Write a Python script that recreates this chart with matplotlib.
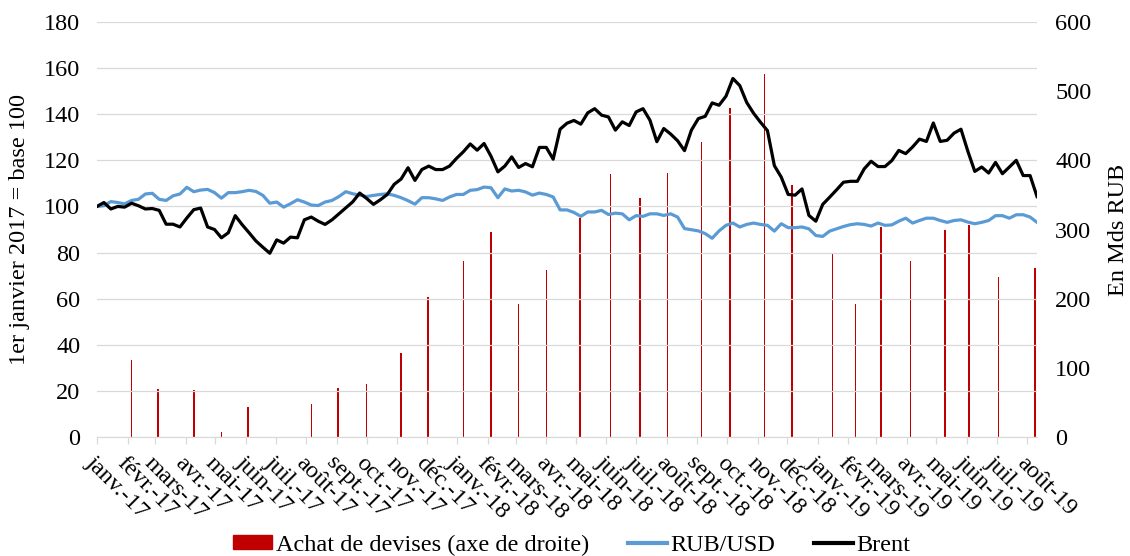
import matplotlib
matplotlib.use('Agg')
from matplotlib import pyplot as plt
from matplotlib.patches import Patch
from matplotlib.lines import Line2D
from matplotlib.transforms import ScaledTranslation
import numpy as np
import pandas as pd

# weekly series, 1er janvier 2017 = base 100
brent = [100, 101.7, 98.9, 100, 99.7, 101.4, 100.3, 98.9, 99.1, 98.3, 92.3, 92.3, 91.1, 95, 98.6,
         99.3, 91.1, 90, 86.4, 88.6, 96, 92.1, 88.6, 85, 82.3,
         79.7, 85.5, 84.1, 86.7, 86.4, 94.2, 95.4, 93.6, 92.2, 94.2, 96.8, 99.4, 102, 105.8, 103.5,
         100.9, 102.9, 105.2, 109.6, 111.9, 116.8,
         111.3, 116, 117.5, 116, 116, 117.5, 120.8, 123.7, 127.1, 124.4, 127.3, 121.8, 115, 117.5,
         121.5, 116.9, 118.6, 117.2, 125.6, 125.6, 120.5, 133.5, 136.1, 137.3,
         135.7, 140.6, 142.4, 139.6, 138.8, 133.1, 136.7, 135.1, 141, 142.4, 137.4, 128.1, 133.8,
         131.4, 128.5, 124.2, 133.1, 138.1, 139.1, 144.9, 143.9, 147.8, 155.5,
         152.4, 145.1, 140.4, 136.5, 132.9, 117.7, 112.7, 105.2, 104.9, 107.6, 96.1, 93.6, 100.9,
         104, 107.2, 110.5, 110.9, 110.9, 116.3, 119.6, 117.3, 117.3, 119.9, 124.3,
         122.9, 125.8, 129.2, 128.2, 136.2, 128.2, 128.7, 131.8, 133.5, 123.9, 115.2, 117.1, 114.5,
         119.1, 114.2, 117.1, 120, 113.4, 113.4, 104.3]

rub_usd = [100, 100.3, 102.1, 101.7, 101.1, 102.6, 103.1, 105.4, 105.7, 103.1, 102.6, 104.6, 105.4,
           108.3, 106.4, 107.1, 107.4, 106, 103.6, 106, 106, 106.4, 107, 106.5,
           104.8, 101.4, 101.9, 99.7, 101.2, 102.9, 101.9, 100.6, 100.4, 101.9, 102.6, 104.3, 106.4,
           105.5, 104.9, 104.3, 104.8, 105.2, 105.5, 104.8, 103.8, 102.5, 101,
           103.8, 103.8, 103.3, 102.6, 104.1, 105.2, 105.2, 107, 107.3, 108.4, 108.1, 103.8, 107.6,
           106.7, 107, 106.3, 104.9, 105.8, 105.2, 104.1, 98.5, 98.5, 97.4,
           95.7, 97.6, 97.6, 98.3, 96.5, 97.1, 96.8, 94.2, 96, 95.7, 96.8, 96.8, 96.1, 96.8, 95.4,
           90.4, 89.9, 89.4, 88.2, 86.2, 89.4, 91.8,
           92.8, 91.1, 92.2, 92.8, 92.2, 91.8, 89.3, 92.5, 90.8, 90.8, 91.1, 90.3, 87.4, 87, 89.3,
           90.3, 91.3, 92.1, 92.5, 92.2, 91.5, 92.8, 91.8, 92, 93.6,
           94.9, 92.8, 93.9, 94.9, 94.9, 93.9, 93.1, 93.9, 94.2, 93.2, 92.5, 93.1, 93.9, 96, 96,
           94.9, 96.4, 96.4, 95.4, 93.1]

week_dates = pd.date_range('2017-01-01', periods=len(brent), freq='7D')

# achats de devises (Mds RUB), axe de droite
purchase_dates = ['2017-02-05', '2017-03-04', '2017-04-09', '2017-05-07', '2017-06-03',
                  '2017-08-06', '2017-09-02', '2017-10-01', '2017-11-05', '2017-12-02',
                  '2018-01-07', '2018-02-04', '2018-03-04', '2018-04-01', '2018-05-05',
                  '2018-06-05', '2018-07-05', '2018-08-02', '2018-09-05', '2018-10-04',
                  '2018-11-08', '2018-12-06', '2019-01-16', '2019-02-08', '2019-03-06',
                  '2019-04-05', '2019-05-10', '2019-06-03', '2019-07-03', '2019-08-09']
purchases = [111, 70, 68, 7, 44, 47, 71, 76, 121, 203,
             255, 297, 192, 241, 317, 380, 346, 382, 426, 475,
             525, 365, 264, 193, 303, 254, 299, 307, 231, 244]

month_names = ['janv.', 'févr.', 'mars', 'avr.', 'mai', 'juin',
               'juil.', 'août', 'sept.', 'oct.', 'nov.', 'déc.']


def draw(outfile):
    plt.rcParams['font.family'] = ['Liberation Serif', 'DejaVu Serif']
    fs = 17.5

    fig = plt.figure(figsize=(11.3, 5.56), dpi=100)
    ax = fig.add_axes([97/1130, 1-437/556, 940/1130, 415/556])
    ax2 = ax.twinx()

    ax2.bar(pd.to_datetime(purchase_dates), purchases, width=1.5, color='#C00000')
    ax.plot(week_dates, rub_usd, color='#5B9BD5', lw=2.3, solid_joinstyle='round')
    ax.plot(week_dates, brent, color='black', lw=2.3, solid_joinstyle='round')

    ax.set_zorder(ax2.get_zorder() + 1)
    ax.patch.set_visible(False)

    ax.set_xlim(week_dates[0], week_dates[-1])
    ax.set_ylim(0, 180)
    ax.set_yticks(np.arange(0, 181, 20))
    ax2.set_ylim(0, 600)
    ax2.set_yticks(np.arange(0, 601, 100))
    ax.grid(axis='y', color='#d9d9d9', lw=0.9)

    ticks = pd.date_range('2017-01-01', '2019-08-01', freq='MS')
    ax.set_xticks(ticks)
    ax.set_xticklabels([month_names[t.month-1] + '-' + str(t.year)[2:] for t in ticks],
                       rotation=-45, ha='left', va='top', rotation_mode='anchor', fontsize=fs)
    shift = ScaledTranslation(4/72, 0, fig.dpi_scale_trans)
    for lab in ax.get_xticklabels():
        lab.set_transform(lab.get_transform() + shift)

    for a in (ax, ax2):
        for s in a.spines.values():
            s.set_visible(False)
    ax.spines['bottom'].set_visible(True)
    ax.spines['bottom'].set_color('#d9d9d9')
    ax.tick_params(axis='x', color='#d9d9d9', length=5, width=0.9, pad=6)
    ax.tick_params(axis='y', length=0, pad=12, labelsize=fs)
    ax2.tick_params(axis='y', length=0, pad=13, labelsize=fs)

    ax.set_ylabel('1er janvier 2017 = base 100', fontsize=fs)
    ax.yaxis.set_label_coords((30-97)/940, 0.5)
    ax2.set_ylabel('En Mds RUB', fontsize=fs)
    ax2.yaxis.set_label_coords((1108-97)/940, 0.5)

    handles = [Patch(color='#C00000'),
               Line2D([], [], color='#5B9BD5', lw=3),
               Line2D([], [], color='black', lw=3)]
    labels = ['Achat de devises (axe de droite)', 'RUB/USD', 'Brent']
    fig.legend(handles, labels, loc='center', bbox_to_anchor=(572/1130, 1-545/556), ncol=3,
               frameon=False, fontsize=fs, handlelength=1.6, handleheight=0.5,
               handletextpad=0.15, columnspacing=1.6, borderpad=0.1)

    fig.savefig(outfile, dpi=100)


if __name__ == '__main__':
    draw('out.png')
